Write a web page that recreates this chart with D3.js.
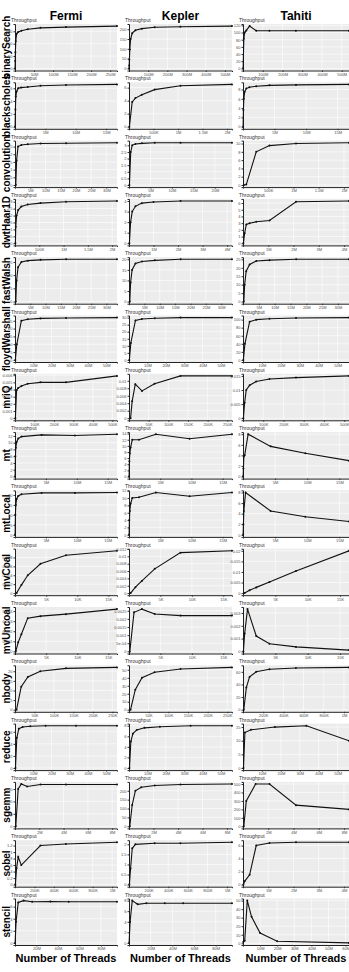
<!DOCTYPE html>
<html><head><meta charset="utf-8">
<script src="https://cdn.jsdelivr.net/npm/d3@7"></script>
<style>
body{margin:0;background:#fff}
text{font-family:"Liberation Sans",Arial,sans-serif}
</style></head><body><div id="chart"></div>
<script>
var archs = ["Fermi", "Kepler", "Tahiti"]
var benchmarks = ["binarySearch","blackscholes","convolution","dwtHaar1D","fastWalsh","floydWarshall","mriQ","mt","mtLocal","mvCoal","mvUncoal","nbody","reduce","sgemm","sobel","stencil"]

// [threads, throughput]
var binarySearchFermi = [[0.25e6,0],[0.5e6,30],[1e6,65],[2e6,110],[4.2e6,140],[8.4e6,147],[16.8e6,152],[33.5e6,158],[67e6,164],[134e6,167],[268e6,171]]
var binarySearchKepler = [[0.5e6,0],[1e6,15],[2e6,45],[4.2e6,97],[8.4e6,150],[16.8e6,180],[33.5e6,195],[67e6,203],[134e6,210],[268e6,213],[537e6,216]]
var binarySearchTahiti = [[0.5e6,0],[4.2e6,83],[8.4e6,100],[16.8e6,106],[33.5e6,118],[67e6,105],[134e6,105],[268e6,105],[537e6,105]]
var blackscholesFermi = [[16e3,0],[65e3,2.7],[131e3,4.7],[262e3,5.5],[524e3,6.0],[1e6,6.1],[2.1e6,6.2],[4.2e6,6.4],[8.4e6,6.5],[16.8e6,6.6]]
var blackscholesKepler = [[8e3,0],[65e3,3.8],[131e3,4.4],[262e3,4.9],[524e3,5.7],[1.05e6,6.3],[2.1e6,6.5]]
var blackscholesTahiti = [[16e3,0],[65e3,3.6],[131e3,6],[262e3,7.5],[524e3,8.2],[1e6,8.5],[2.1e6,8.7],[4.2e6,8.9],[8.4e6,9.0],[16.8e6,9.1]]
var convolutionFermi = [[0.26e6,0],[0.52e6,1.6],[1e6,2.5],[2.1e6,2.6],[4.2e6,2.65],[8.4e6,2.7],[16.8e6,2.72],[33.5e6,2.75]]
var convolutionKepler = [[0.1e6,0],[0.4e6,2.5],[0.75e6,3.0],[1.5e6,3.1],[3e6,3.15],[6e6,3.2],[12e6,3.2],[24e6,3.2]]
var convolutionTahiti = [[16e3,0],[65e3,0.1],[262e3,8],[524e3,9.5],[1.05e6,10],[2.1e6,10.2]]
var dwtHaar1DFermi = [[8e3,0],[16e3,1.2],[33e3,2.0],[65e3,2.4],[131e3,2.65],[262e3,2.8],[524e3,2.9],[1.05e6,3.0],[2.1e6,3.05]]
var dwtHaar1DKepler = [[16e3,0],[65e3,2.0],[131e3,3.0],[262e3,3.5],[524e3,3.8],[1e6,3.9],[2.1e6,4.0],[4.2e6,4.0]]
var dwtHaar1DTahiti = [[16e3,0],[65e3,1.5],[131e3,2.8],[262e3,3.0],[524e3,3.2],[1.05e6,3.4],[2.1e6,6.2],[4.2e6,6.3]]
var fastWalshFermi = [[0.26e6,0],[0.52e6,8],[1e6,13],[2.1e6,15],[4.2e6,15.5],[8.4e6,15.8],[16.8e6,16],[33.5e6,16]]
var fastWalshKepler = [[0.26e6,0],[0.52e6,9],[1e6,15],[2.1e6,18],[4.2e6,19],[8.4e6,19.5],[16.8e6,20],[33.5e6,20]]
var fastWalshTahiti = [[0.26e6,0],[0.52e6,10],[1e6,18],[2.1e6,22],[4.2e6,24],[8.4e6,24.5],[16.8e6,25],[33.5e6,25]]
var floydWarshallFermi = [[0.2e6,0],[1e6,10],[3.5e6,25],[7e6,26],[14e6,26.5],[28e6,26.8],[56e6,27]]
var floydWarshallKepler = [[0.2e6,0],[1e6,12],[3.5e6,28],[7e6,29],[14e6,29.5],[28e6,30],[56e6,30]]
var floydWarshallTahiti = [[0.2e6,0],[1e6,40],[3.5e6,95],[7e6,100],[14e6,102],[28e6,104],[56e6,105]]
var mriQFermi = [[2e3,0],[8e3,0.0039],[16e3,0.0042],[33e3,0.0045],[65e3,0.0048],[131e3,0.005],[262e3,0.005],[524e3,0.0059]]
var mriQKepler = [[4e3,0],[8e3,0.0045],[16e3,0.0091],[33e3,0.0073],[65e3,0.0092],[131e3,0.0113],[262e3,0.0113]]
var mriQTahiti = [[2e3,0],[8e3,0.0055],[16e3,0.01],[33e3,0.0117],[65e3,0.013],[131e3,0.0139],[262e3,0.0144],[524e3,0.015]]
var mtFermi = [[16e3,0],[65e3,6],[131e3,8.5],[262e3,10.2],[524e3,11.2],[1.05e6,11.8],[4.3e6,12.3],[9.7e6,12.1],[16.5e6,12.5]]
var mtKepler = [[16e3,0],[65e3,5],[131e3,7.5],[262e3,9.5],[524e3,12],[1.6e6,12],[4.3e6,13.8],[9.7e6,12.3],[16.5e6,13.8]]
var mtTahiti = [[16e3,0],[65e3,1.5],[131e3,3.8],[262e3,4],[800e3,8],[4.3e6,5.7],[9.7e6,4.4],[16.5e6,3.0]]
var mtLocalFermi = [[16e3,0],[65e3,10],[131e3,15],[262e3,18],[524e3,19.5],[1.05e6,20.3],[4.3e6,21],[9.7e6,21],[16.5e6,21.2]]
var mtLocalKepler = [[16e3,0],[65e3,4],[131e3,6.5],[262e3,8.5],[524e3,10],[1.6e6,10.2],[4.3e6,11.5],[9.7e6,10.5],[16.5e6,11.5]]
var mtLocalTahiti = [[16e3,0],[65e3,2],[131e3,4.5],[400e3,8],[4.3e6,4.5],[9.7e6,3.4],[16.5e6,2.5]]
var mvCoalFermi = [[256,0],[1024,0.0018],[2048,0.004],[4096,0.0066],[8192,0.0085],[16384,0.0095]]
var mvCoalKepler = [[256,0],[1024,0.0016],[2048,0.0033],[4096,0.0066],[8192,0.011],[16384,0.0115]]
var mvCoalTahiti = [[256,0],[1024,0.0013],[2048,0.0027],[4096,0.0053],[8192,0.0105],[16384,0.02]]
var mvUncoalFermi = [[128,0],[512,0.0009],[1024,0.0017],[2048,0.0033],[4096,0.0035],[8192,0.0037],[16384,0.0042]]
var mvUncoalKepler = [[128,0],[800,0.0024],[2048,0.0026],[4096,0.0023],[8192,0.0022],[16384,0.0022]]
var mvUncoalTahiti = [[64,0],[256,0.0014],[700,0.0033],[2048,0.0012],[4096,0.0006],[8192,0.00035],[16384,0.0001]]
var nbodyFermi = [[4e3,0],[16e3,12],[33e3,17],[65e3,20],[131e3,21.5],[262e3,22]]
var nbodyKepler = [[4e3,0],[16e3,25],[33e3,40],[65e3,47],[131e3,51],[262e3,53]]
var nbodyTahiti = [[8e3,0],[33e3,35],[65e3,52],[131e3,60],[262e3,64],[524e3,66],[1.05e6,67]]
var reduceFermi = [[0.26e6,0],[1e6,5],[2.1e6,6.5],[4.2e6,6.8],[8.4e6,6.9],[16.8e6,7],[33.5e6,7],[56e6,7]]
var reduceKepler = [[0.26e6,0],[1e6,5],[2.1e6,6.5],[4.2e6,7.2],[8.4e6,7.6],[16.8e6,7.8],[33.5e6,8],[56e6,8]]
var reduceTahiti = [[0.26e6,0],[1e6,13],[4.2e6,14],[16.8e6,15],[33.5e6,15.5],[56e6,10]]
var sgemmFermi = [[65e3,0],[0.26e6,150],[0.52e6,170],[1e6,160],[2.1e6,168],[4.2e6,168],[8.4e6,168]]
var sgemmKepler = [[65e3,0],[0.26e6,120],[0.52e6,200],[1e6,220],[2.1e6,230],[4.2e6,235],[8.4e6,238]]
var sgemmTahiti = [[65e3,0],[0.26e6,300],[1e6,500],[2.1e6,500],[4.2e6,250],[8.4e6,200]]
var sobelFermi = [[4e3,0],[16e3,0.5],[33e3,0.85],[65e3,0.6],[262e3,1.2],[524e3,1.25],[1.05e6,1.3]]
var sobelKepler = [[4e3,0],[16e3,0.8],[33e3,1.8],[65e3,2.0],[262e3,2.05],[524e3,2.05],[1.05e6,2.1]]
var sobelTahiti = [[16e3,0],[65e3,0.5],[262e3,1.5],[524e3,6],[1.05e6,6.4],[2.1e6,6.5],[4.2e6,6.5]]
var stencilFermi = [[0.1e6,0],[1e6,3.5],[3e6,6.7],[8e6,7.0],[16e6,6.8],[33e6,6.85],[50e6,6.8],[95e6,6.8]]
var stencilKepler = [[0.1e6,0],[1e6,4],[3e6,8],[8e6,7.3],[16e6,7.5],[33e6,7.5],[50e6,7.5],[95e6,7.5]]
var stencilTahiti = [[0.1e6,1.5],[1e6,3],[2.5e6,50],[5e6,31],[10e6,12],[20e6,2.5],[62e6,0.5]]

var series = {
  binarySearch: [binarySearchFermi, binarySearchKepler, binarySearchTahiti],
  blackscholes: [blackscholesFermi, blackscholesKepler, blackscholesTahiti],
  convolution: [convolutionFermi, convolutionKepler, convolutionTahiti],
  dwtHaar1D: [dwtHaar1DFermi, dwtHaar1DKepler, dwtHaar1DTahiti],
  fastWalsh: [fastWalshFermi, fastWalshKepler, fastWalshTahiti],
  floydWarshall: [floydWarshallFermi, floydWarshallKepler, floydWarshallTahiti],
  mriQ: [mriQFermi, mriQKepler, mriQTahiti],
  mt: [mtFermi, mtKepler, mtTahiti],
  mtLocal: [mtLocalFermi, mtLocalKepler, mtLocalTahiti],
  mvCoal: [mvCoalFermi, mvCoalKepler, mvCoalTahiti],
  mvUncoal: [mvUncoalFermi, mvUncoalKepler, mvUncoalTahiti],
  nbody: [nbodyFermi, nbodyKepler, nbodyTahiti],
  reduce: [reduceFermi, reduceKepler, reduceTahiti],
  sgemm: [sgemmFermi, sgemmKepler, sgemmTahiti],
  sobel: [sobelFermi, sobelKepler, sobelTahiti],
  stencil: [stencilFermi, stencilKepler, stencilTahiti]
}

var svgW = 349, svgH = 972
var colX = [15, 129, 243]
var colW = [102, 103, 106]
var rowTop = 24, rowStep = 58.3, plotH = 46.5

var svg = d3.select("#chart").append("svg")
  .attr("width", svgW).attr("height", svgH)

function fmtX(v) { return d3.format("~s")(v).replace("k", "K") }
function fmtY(v) {
  if (v !== 0 && Math.abs(v) < 0.001) {
    return d3.format(".0e")(v).replace(/e-(\d)$/, "e-0$1")
  }
  return d3.format("~g")(v)
}

// column titles + bottom axis title
archs.forEach(function(a, j) {
  svg.append("text")
    .attr("x", colX[j] + colW[j] / 2).attr("y", 20)
    .attr("text-anchor", "middle")
    .attr("font-size", 12).attr("font-weight", "bold")
    .text(a)
  svg.append("text")
    .attr("x", colX[j] + colW[j] / 2).attr("y", 962)
    .attr("text-anchor", "middle")
    .attr("font-size", 11).attr("font-weight", "bold")
    .text("Number of Threads")
})

benchmarks.forEach(function(b, i) {
  var top = rowTop + i * rowStep
  svg.append("text")
    .attr("transform", "translate(10," + (top + plotH / 2) + ")rotate(-90)")
    .attr("text-anchor", "middle")
    .attr("font-size", 10).attr("font-weight", "bold")
    .text(b)

  series[b].forEach(function(data, j) {
    var g = svg.append("g").attr("transform", "translate(" + colX[j] + "," + top + ")")
    var w = colW[j]
    var xMax = d3.max(data, d => d[0])
    var yExt = d3.extent(data, d => d[1])
    var pad = (yExt[1] - yExt[0]) * 0.05
    var x = d3.scaleLinear().domain([0, xMax]).range([0, w])
    var y = d3.scaleLinear().domain([yExt[0] - pad, yExt[1] + pad]).range([plotH, 0])

    g.append("rect").attr("width", w).attr("height", plotH).attr("fill", "#ececec")

    var yt = y.ticks(5).filter(t => t >= y.domain()[0] && t <= y.domain()[1])
    var xt = x.ticks(5).filter(t => t > 0 && t <= xMax)

    g.selectAll(".gy").data(yt).enter().append("line")
      .attr("x1", 0).attr("x2", w)
      .attr("y1", d => y(d)).attr("y2", d => y(d))
      .attr("stroke", "#fff").attr("stroke-width", 0.6)
    g.selectAll(".gx").data(xt).enter().append("line")
      .attr("y1", 0).attr("y2", plotH)
      .attr("x1", d => x(d)).attr("x2", d => x(d))
      .attr("stroke", "#fff").attr("stroke-width", 0.6)

    var xAxis = g.append("g").attr("transform", "translate(0," + plotH + ")")
      .call(d3.axisBottom(x).tickValues(xt).tickFormat(fmtX).tickSize(1.5).tickPadding(1))
    var yAxis = g.append("g")
      .call(d3.axisLeft(y).tickValues(yt).tickFormat(fmtY).tickSize(1.5).tickPadding(1))
    ;[xAxis, yAxis].forEach(function(ax) {
      ax.selectAll("text").attr("font-size", 4).attr("fill", "#4d4d4d")
        .attr("font-family", "Liberation Sans, Arial, sans-serif")
      ax.selectAll(".tick line").attr("stroke", "#333")
      ax.select(".domain").attr("stroke", "#222").attr("stroke-width", 1)
    })

    g.append("text").attr("x", -4).attr("y", -2)
      .attr("font-size", 5).attr("fill", "#333")
      .text("Throughput")

    g.append("path").datum(data)
      .attr("fill", "none").attr("stroke", "#111").attr("stroke-width", 1.1)
      .attr("d", d3.line().x(d => x(d[0])).y(d => y(d[1])))
    g.selectAll("circle").data(data).enter().append("circle")
      .attr("cx", d => x(d[0])).attr("cy", d => y(d[1])).attr("r", 1)
      .attr("fill", "#111")
  })
})
</script>
</body></html>
